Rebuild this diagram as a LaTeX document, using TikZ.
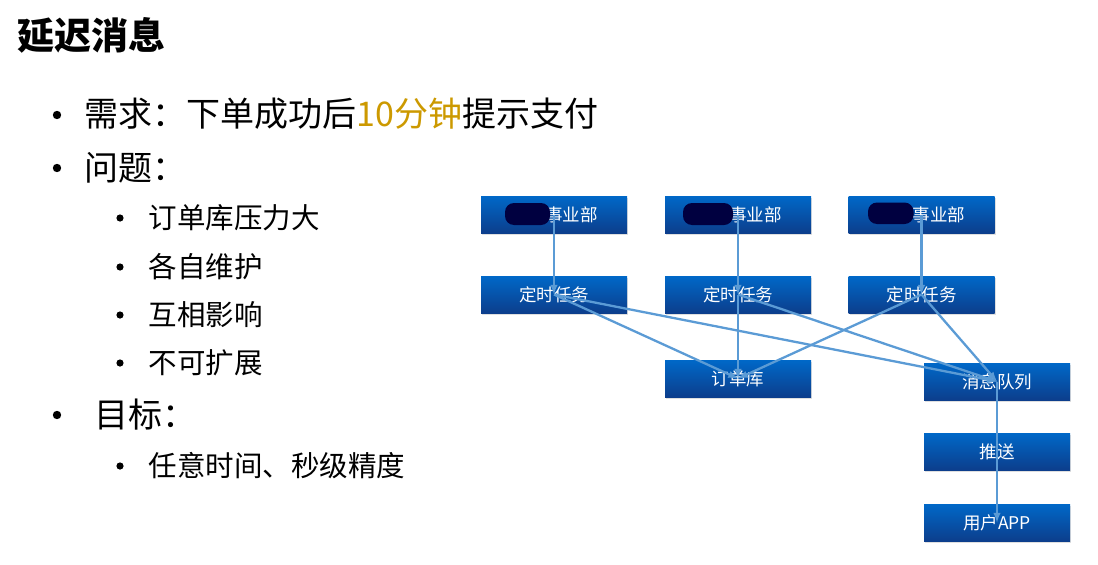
\documentclass[tikz,border=0pt]{standalone}
\usepackage{fontspec}
\setmainfont{Noto Sans CJK SC}
\usepackage{tikz}
\usetikzlibrary{arrows,positioning,shadows}
\tikzset{>=latex}
\definecolor{boxtop}{RGB}{0,104,200}
\definecolor{boxbot}{RGB}{12,62,140}
\definecolor{linkblue}{RGB}{91,155,213}
\definecolor{gold}{RGB}{204,153,0}
\definecolor{inkblot}{RGB}{0,0,64}

\begin{document}
\begin{tikzpicture}[x=1pt, y=-1pt,
	box/.style={rectangle, minimum width=146pt, minimum height=37pt, inner sep=0pt, top color=boxtop, bottom color=boxbot, text=white, font=\fontsize{17.5}{19}\selectfont, drop shadow={opacity=0.25, shadow xshift=1pt, shadow yshift=-1.5pt}},
	link/.style={color=linkblue, line width=2.3pt},
	blob/.style={fill=inkblot, rounded corners=9pt},
	big/.style={anchor=west, font=\fontsize{34}{36}\selectfont},
	small/.style={anchor=west, font=\fontsize{28.5}{30}\selectfont},
	node distance=80pt, on grid]
	\useasboundingbox (0,0) rectangle (1098,565);

	% text on the left
	\node[anchor=west, font=\fontsize{37}{40}\selectfont\bfseries] (title) at (14,35) {延迟消息};
	\node[big] (need) at (81,114) {需求：下单成功后\textcolor{gold}{10分钟}提示支付};
	\node[big] (issue) at (81,168) {问题：};
	\node[small] (load) at (145,218) {订单库压力大};
	\node[small] (own) at (145,267) {各自维护};
	\node[small] (mutual) at (145,315) {互相影响};
	\node[small] (scale) at (145,363) {不可扩展};
	\node[big] (goal) at (91,415) {目标：};
	\node[small] (any) at (145,466) {任意时间、秒级精度};
	\foreach \y in {115,168,415} \fill (57,\y) circle (4.2pt);
	\foreach \y in {218,267,315,363,466} \fill (120,\y) circle (3.6pt);

	% boxes
	\node[box] (dep1) at (554,214.5) {\hphantom{某某}事业部};
	\node[box] (dep2) [right=184pt of dep1] {\hphantom{某某}事业部};
	\node[box] (dep3) [right=183.5pt of dep2] {\hphantom{某某}事业部};
	\node[box] (task1) [below=of dep1] {定时任务};
	\node[box] (task2) [below=of dep2] {定时任务};
	\node[box] (task3) [below=of dep3] {定时任务};
	\node[box] (db) [below=84pt of task2] {订单库};
	\node[box] (mq) at (997,381.5) {消息队列};
	\node[box] (push) [below=70pt of mq] {推送};
	\node[box] (app) [below=71pt of push] {用户APP};

	% hidden names
	\fill[blob] ([xshift=-49pt,yshift=11.5pt]dep1.center) rectangle ([xshift=-4pt,yshift=-10.5pt]dep1.center);
	\fill[blob] ([xshift=-55pt,yshift=11.5pt]dep2.center) rectangle ([xshift=-5pt,yshift=-10.5pt]dep2.center);
	\fill[blob] ([xshift=-53.5pt,yshift=12pt]dep3.center) rectangle ([xshift=-8pt,yshift=-9.5pt]dep3.center);

	\path[->, link]
		(dep1.center) edge (task1.center)
		(dep2.center) edge (task2.center)
		(dep3.center) edge (task3.center)
		(task1.center) edge (db.center) edge (mq.center)
		(task2.center) edge (db.center) edge (mq.center)
		(task3.center) edge (db.center) edge (mq.center);
	\draw[->, link] (mq.center) -- (push.center) -- (app.center);
\end{tikzpicture}
\end{document}
